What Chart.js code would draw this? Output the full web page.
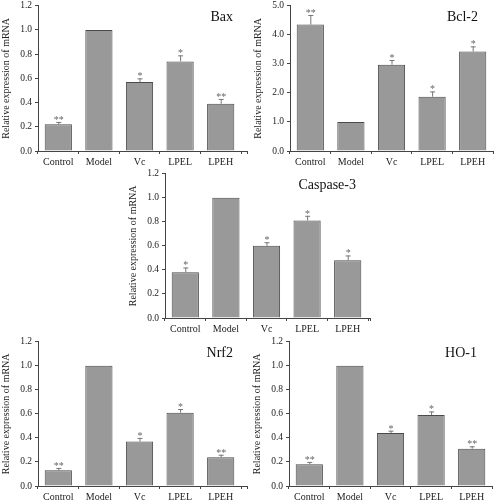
<!DOCTYPE html>
<html>
<head>
<meta charset="utf-8">
<script src="https://cdn.jsdelivr.net/npm/chart.js@4.4.1/dist/chart.umd.min.js"></script>
<style>
    html, body { margin: 0; padding: 0; background: #fff; }
    #wrap { position: relative; width: 494px; height: 500px; overflow: hidden; }
    .panel { position: absolute; }
</style>
</head>
<body>
<div id="wrap"></div>
<script>
// Data
const groups = ['Control', 'Model', 'Vc', 'LPEL', 'LPEH'];

const baxMeans = [0.22, 1.00, 0.57, 0.74, 0.39];
const baxErrs = [0.02, 0, 0.03, 0.05, 0.04];
const baxStars = ['**', '', '*', '*', '**'];

const bcl2Means = [4.35, 1.00, 2.97, 1.87, 3.42];
const bcl2Errs = [0.33, 0, 0.16, 0.18, 0.18];
const bcl2Stars = ['**', '', '*', '*', '*'];

const casp3Means = [0.38, 1.00, 0.60, 0.81, 0.48];
const casp3Errs = [0.04, 0, 0.03, 0.04, 0.04];
const casp3Stars = ['*', '', '*', '*', '*'];

const nrf2Means = [0.13, 1.00, 0.37, 0.61, 0.24];
const nrf2Errs = [0.02, 0, 0.03, 0.03, 0.02];
const nrf2Stars = ['**', '', '*', '*', '**'];

const ho1Means = [0.18, 1.00, 0.44, 0.59, 0.31];
const ho1Errs = [0.02, 0, 0.02, 0.03, 0.02];
const ho1Stars = ['**', '', '*', '*', '**'];

const ratioTicks = [0, 0.2, 0.4, 0.6, 0.8, 1.0, 1.2];
const bcl2Ticks = [0, 1, 2, 3, 4, 5];

const FONT = '"Liberation Serif", "Times New Roman", serif';
const INK = '#222';

// Error bars, significance stars and the panel title
const extrasPlugin = {
    id: 'extras',
    afterDatasetsDraw(chart, args, opts) {
        const { ctx, chartArea } = chart;
        const y = chart.scales.y;
        const meta = chart.getDatasetMeta(0);
        ctx.save();
        meta.data.forEach((bar, i) => {
            const m = opts.means[i], e = opts.errs[i];
            const yTop = y.getPixelForValue(m + e);
            if (e > 0) {
                ctx.strokeStyle = '#777';
                ctx.lineWidth = 1;
                ctx.beginPath();
                ctx.moveTo(bar.x + 0.5, y.getPixelForValue(m));
                ctx.lineTo(bar.x + 0.5, yTop);
                ctx.moveTo(bar.x - 2, yTop + 0.5);
                ctx.lineTo(bar.x + 3, yTop + 0.5);
                ctx.stroke();
            }
            if (opts.stars[i]) {
                ctx.fillStyle = '#666';
                ctx.font = '10px ' + FONT;
                ctx.textAlign = 'center';
                ctx.textBaseline = 'alphabetic';
                ctx.fillText(opts.stars[i], bar.x + 0.5, yTop + 1);
            }
        });
        // extend the x axis line a little past the last category
        if (opts.ext) {
            ctx.strokeStyle = '#444';
            ctx.beginPath();
            ctx.moveTo(chartArea.right, chartArea.bottom + 0.5);
            ctx.lineTo(chartArea.right + opts.ext, chartArea.bottom + 0.5);
            ctx.moveTo(chartArea.right + opts.ext - 0.5, chartArea.bottom);
            ctx.lineTo(chartArea.right + opts.ext - 0.5, chartArea.bottom + 3);
            ctx.stroke();
        }
        ctx.fillStyle = '#111';
        ctx.font = '14px ' + FONT;
        ctx.textAlign = 'right';
        ctx.textBaseline = 'middle';
        ctx.fillText(opts.title, chartArea.right + (opts.ext || 0) - 15, chartArea.top + 12);
        ctx.restore();
    }
};

function makePanel(title, means, errs, stars, ticks, box) {
    const div = document.createElement('div');
    div.className = 'panel';
    div.style.left = box.left + 'px';
    div.style.top = box.top + 'px';
    const canvas = document.createElement('canvas');
    canvas.width = box.width;
    canvas.height = box.height;
    canvas.style.width = box.width + 'px';
    canvas.style.height = box.height + 'px';
    div.appendChild(canvas);
    document.getElementById('wrap').appendChild(div);

    return new Chart(canvas.getContext('2d'), {
        type: 'bar',
        data: {
            labels: groups,
            datasets: [{
                data: means,
                backgroundColor: '#999999',
                borderColor: '#4a4a4a',
                borderWidth: 1,
                borderSkipped: 'bottom',
                categoryPercentage: 1,
                barPercentage: 0.67
            }]
        },
        options: {
            responsive: false,
            animation: false,
            devicePixelRatio: 1,
            layout: { padding: { top: 2, right: box.padRight, left: 0, bottom: 0 } },
            plugins: {
                legend: { display: false },
                tooltip: { enabled: false },
                extras: { title, means, errs, stars, ext: box.ext }
            },
            scales: {
                x: {
                    grid: { display: true, drawOnChartArea: false, offset: true, tickLength: 3, color: '#444' },
                    border: { display: true, color: '#444' },
                    ticks: { font: { family: FONT, size: 10 }, color: INK, padding: 2, maxRotation: 0 },
                    afterFit: s => { s.height = 15; }
                },
                y: {
                    min: ticks[0],
                    max: ticks[ticks.length - 1],
                    afterBuildTicks: s => { s.ticks = ticks.map(v => ({ value: v })); },
                    grid: { display: true, drawOnChartArea: false, tickLength: 3, color: '#444' },
                    border: { display: true, color: '#444' },
                    ticks: { font: { family: FONT, size: 9.5 }, color: INK, padding: 3, callback: v => v.toFixed(1) },
                    title: { display: true, text: 'Relative expression of mRNA', font: { family: FONT, size: 10 }, color: INK, padding: 0 },
                    afterFit: s => { s.width = 38; }
                }
            }
        },
        plugins: [extrasPlugin]
    });
}

makePanel('Bax', baxMeans, baxErrs, baxStars, ratioTicks, { left: 0, top: -3, width: 250, height: 169, padRight: 9, ext: 7 });
makePanel('Bcl-2', bcl2Means, bcl2Errs, bcl2Stars, bcl2Ticks, { left: 252, top: -3, width: 242, height: 169, padRight: 1, ext: 0 });
makePanel('Caspase-3', casp3Means, casp3Errs, casp3Stars, ratioTicks, { left: 127, top: 165, width: 246, height: 168, padRight: 5, ext: 3 });
makePanel('Nrf2', nrf2Means, nrf2Errs, nrf2Stars, ratioTicks, { left: 0, top: 333, width: 250, height: 168, padRight: 9, ext: 7 });
makePanel('HO-1', ho1Means, ho1Errs, ho1Stars, ratioTicks, { left: 251, top: 333, width: 243, height: 168, padRight: 2, ext: 0 });
</script>
</body>
</html>
